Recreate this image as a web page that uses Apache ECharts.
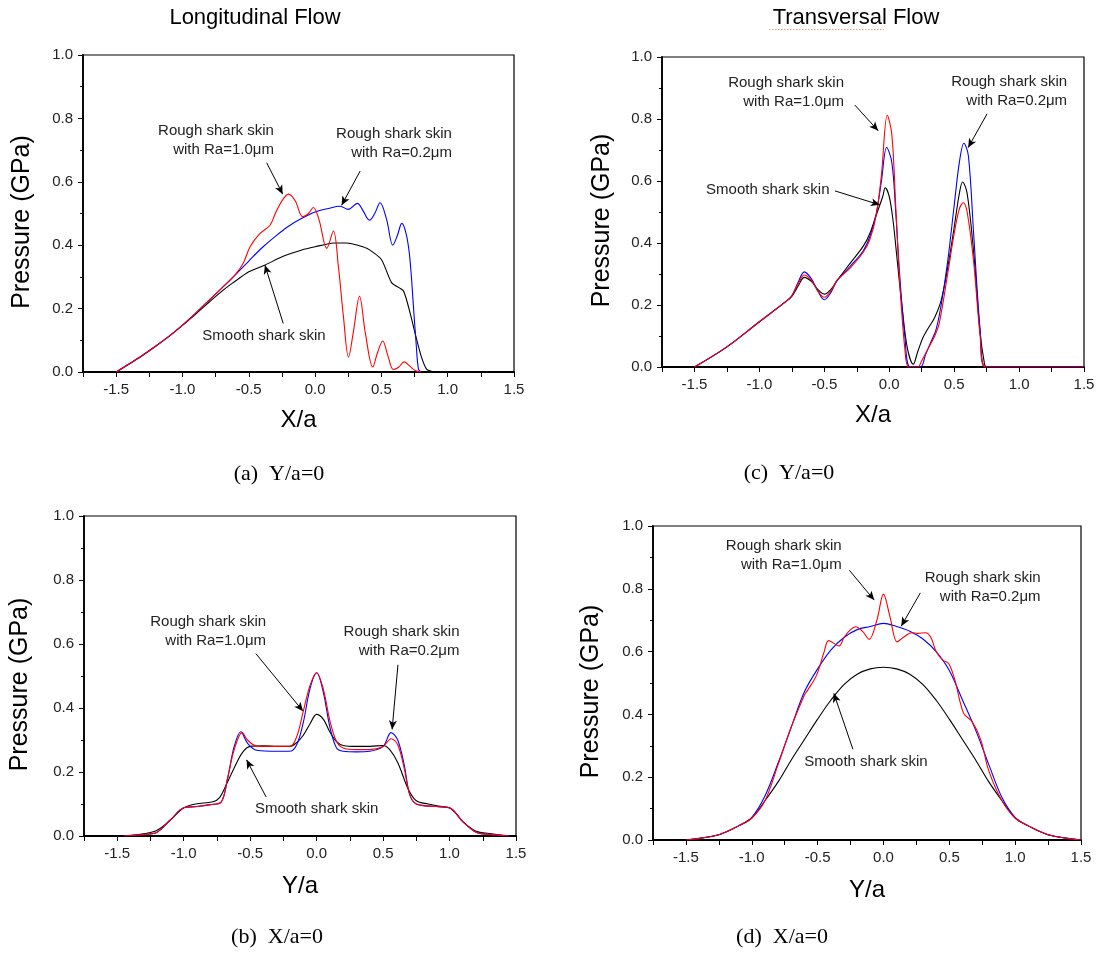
<!DOCTYPE html>
<html><head><meta charset="utf-8">
<script src="https://cdn.jsdelivr.net/npm/echarts@6/dist/echarts.min.js"></script>
<style>html,body{margin:0;padding:0;background:#fff}#c{width:1102px;height:954px}</style>
</head><body><div id="c"></div>
<script>
// ---------- Panel (a): Longitudinal flow, Y/a=0 ----------
const aSmoothX = [-1.5,-1.4,-1.3,-1.2,-1.1,-1.0,-0.9,-0.8,-0.7,-0.62,-0.5,-0.38,-0.24,-0.1,0,0.14,0.24,0.39,0.5,0.578,0.666,0.72,0.754,0.8,0.842,0.9];
const aSmoothY = [0,0.026,0.053,0.082,0.113,0.147,0.183,0.22,0.256,0.281,0.316,0.337,0.365,0.385,0.395,0.407,0.407,0.39,0.355,0.281,0.256,0.18,0.122,0.05,0.008,0];
const aRa02X = [-1.5,-1.4,-1.3,-1.2,-1.1,-1.0,-0.9,-0.8,-0.7,-0.6,-0.5,-0.4,-0.3,-0.2,-0.1,0,0.1,0.189,0.25,0.319,0.36,0.41,0.45,0.49,0.54,0.586,0.62,0.654,0.69,0.716,0.742,0.762,0.78,0.8];
const aRa02Y = [0,0.026,0.053,0.082,0.113,0.148,0.186,0.226,0.266,0.307,0.35,0.392,0.428,0.46,0.485,0.505,0.516,0.523,0.513,0.532,0.51,0.479,0.5,0.534,0.48,0.40,0.43,0.469,0.43,0.353,0.205,0.09,0.008,0];
const aRa10X = [-1.5,-1.4,-1.3,-1.2,-1.1,-1.0,-0.9,-0.8,-0.7,-0.6,-0.54,-0.49,-0.415,-0.34,-0.3,-0.25,-0.2,-0.15,-0.093,-0.05,-0.013,0.03,0.088,0.138,0.176,0.214,0.252,0.29,0.335,0.38,0.435,0.47,0.51,0.55,0.59,0.63,0.671,0.71,0.754,0.8];
const aRa10Y = [0,0.026,0.053,0.082,0.113,0.148,0.186,0.226,0.266,0.308,0.345,0.395,0.437,0.463,0.5,0.54,0.561,0.54,0.49,0.5,0.519,0.48,0.39,0.445,0.332,0.174,0.047,0.13,0.239,0.12,0.016,0.06,0.098,0.05,0.008,0.015,0.032,0.02,0.005,0];

// ---------- Panel (c): Transversal flow, Y/a=0 ----------
const cSmoothX = [-1.5,-1.25,-1.0,-0.8,-0.75,-0.7,-0.654,-0.6,-0.55,-0.5,-0.45,-0.4,-0.3,-0.2,-0.15,-0.1,-0.05,-0.031,0,0.03,0.06,0.1,0.14,0.185,0.22,0.26,0.3,0.35,0.4,0.45,0.5,0.54,0.565,0.6,0.65,0.7,0.73,0.75,1.5];
const cSmoothY = [0,0.065,0.146,0.21,0.228,0.262,0.289,0.276,0.25,0.235,0.25,0.28,0.335,0.39,0.43,0.49,0.55,0.578,0.55,0.47,0.35,0.19,0.06,0.009,0.05,0.095,0.125,0.16,0.215,0.32,0.45,0.56,0.597,0.56,0.37,0.11,0.02,0,0];
const cRa02X = [-1.5,-1.25,-1.0,-0.8,-0.75,-0.7,-0.654,-0.6,-0.55,-0.5,-0.45,-0.4,-0.3,-0.2,-0.15,-0.1,-0.06,-0.02,0.02,0.05,0.08,0.12,0.16,0.24,0.28,0.32,0.36,0.4,0.45,0.5,0.54,0.575,0.61,0.65,0.7,0.74,1.5];
const cRa02Y = [0,0.065,0.146,0.21,0.23,0.275,0.307,0.285,0.245,0.217,0.24,0.28,0.325,0.375,0.42,0.495,0.6,0.708,0.66,0.5,0.3,0.1,0,0,0.04,0.08,0.12,0.2,0.34,0.52,0.66,0.722,0.68,0.43,0.12,0,0];
const cRa10X = [-1.5,-1.25,-1.0,-0.8,-0.75,-0.7,-0.654,-0.6,-0.55,-0.5,-0.45,-0.4,-0.3,-0.2,-0.15,-0.1,-0.06,-0.015,0.02,0.05,0.08,0.12,0.15,0.22,0.25,0.3,0.35,0.385,0.45,0.5,0.54,0.57,0.6,0.65,0.7,0.74,1.5];
const cRa10Y = [0,0.065,0.146,0.21,0.23,0.27,0.297,0.28,0.245,0.225,0.245,0.28,0.32,0.37,0.41,0.49,0.62,0.812,0.75,0.52,0.28,0.06,0,0,0.02,0.06,0.1,0.141,0.3,0.43,0.51,0.53,0.5,0.34,0.1,0,0];

// ---------- Panel (b): Longitudinal flow, X/a=0 ----------
const bSmoothX = [-1.45,-1.3,-1.2,-1.1,-1.0,-0.91,-0.78,-0.73,-0.68,-0.6,-0.55,-0.5,-0.4,-0.3,-0.2,-0.15,-0.1,-0.05,0,0.05,0.1,0.15,0.2,0.3,0.4,0.5,0.55,0.61,0.69,0.75,0.84,0.97,1.0,1.05,1.1,1.2,1.3,1.45];
const bSmoothY = [0,0.007,0.018,0.05,0.088,0.1,0.107,0.12,0.16,0.23,0.265,0.28,0.282,0.28,0.28,0.292,0.315,0.35,0.38,0.365,0.325,0.295,0.283,0.28,0.28,0.283,0.27,0.23,0.146,0.11,0.1,0.09,0.088,0.07,0.045,0.015,0.008,0];
const bRa02X = [-1.45,-1.3,-1.2,-1.1,-1.0,-0.9,-0.8,-0.72,-0.67,-0.62,-0.57,-0.52,-0.45,-0.3,-0.2,-0.15,-0.1,-0.05,0,0.05,0.1,0.15,0.2,0.3,0.4,0.5,0.56,0.61,0.66,0.7,0.75,0.9,1.0,1.1,1.2,1.3,1.45];
const bRa02Y = [0,0.005,0.012,0.05,0.088,0.092,0.098,0.105,0.18,0.28,0.326,0.29,0.268,0.265,0.265,0.285,0.355,0.46,0.51,0.45,0.34,0.275,0.265,0.263,0.265,0.28,0.323,0.3,0.22,0.13,0.1,0.092,0.088,0.045,0.012,0.005,0];
const bRa10X = [-1.45,-1.3,-1.2,-1.1,-1.0,-0.9,-0.8,-0.72,-0.67,-0.62,-0.56,-0.52,-0.45,-0.3,-0.2,-0.15,-0.1,-0.05,0,0.05,0.1,0.15,0.2,0.3,0.4,0.5,0.56,0.61,0.66,0.7,0.75,0.9,1.0,1.1,1.2,1.3,1.45];
const bRa10Y = [0,0.005,0.012,0.05,0.088,0.092,0.098,0.105,0.18,0.27,0.323,0.3,0.281,0.28,0.28,0.31,0.39,0.47,0.51,0.46,0.36,0.295,0.275,0.27,0.27,0.28,0.304,0.285,0.21,0.13,0.1,0.092,0.088,0.045,0.012,0.005,0];

// ---------- Panel (d): Transversal flow, X/a=0 ----------
const dSmoothX = [-1.5,-1.25,-1.1,-1.0,-0.9,-0.8,-0.7,-0.6,-0.5,-0.4,-0.3,-0.2,-0.1,0,0.1,0.2,0.3,0.4,0.5,0.6,0.7,0.8,0.9,1.0,1.1,1.25,1.5];
const dSmoothY = [0,0.017,0.045,0.07,0.125,0.185,0.255,0.32,0.385,0.445,0.495,0.528,0.545,0.55,0.545,0.528,0.495,0.445,0.385,0.32,0.255,0.185,0.125,0.07,0.045,0.017,0];
const dRa02X = [-1.5,-1.25,-1.1,-1.0,-0.9,-0.8,-0.7,-0.6,-0.5,-0.4,-0.3,-0.2,-0.1,0,0.1,0.2,0.3,0.4,0.5,0.6,0.7,0.8,0.9,1.0,1.1,1.25,1.5];
const dRa02Y = [0,0.017,0.045,0.072,0.14,0.245,0.36,0.472,0.545,0.605,0.645,0.67,0.68,0.69,0.68,0.665,0.64,0.6,0.54,0.446,0.35,0.24,0.135,0.072,0.045,0.017,0];
const dRa10X = [-1.5,-1.25,-1.1,-1.0,-0.9,-0.8,-0.7,-0.6,-0.574,-0.508,-0.45,-0.416,-0.337,-0.3,-0.25,-0.211,-0.16,-0.109,-0.05,0,0.05,0.104,0.15,0.214,0.26,0.319,0.36,0.4,0.45,0.495,0.542,0.608,0.673,0.739,0.8,0.9,1.0,1.1,1.25,1.5];
const dRa10Y = [0,0.017,0.045,0.07,0.125,0.24,0.36,0.462,0.478,0.525,0.6,0.635,0.618,0.645,0.67,0.679,0.665,0.639,0.7,0.783,0.71,0.631,0.645,0.66,0.658,0.66,0.645,0.6,0.573,0.562,0.51,0.404,0.377,0.319,0.22,0.125,0.07,0.045,0.017,0];

// ---------- text ----------
const topTitles = ['Longitudinal Flow', 'Transversal Flow'];
const captions = ['(a)  Y/a=0', '(c)  Y/a=0', '(b)  X/a=0', '(d)  X/a=0'];
const xNames = ['X/a', 'X/a', 'Y/a', 'Y/a'];
const yName = 'Pressure (GPa)';
const lblRa10 = 'Rough shark skin\nwith Ra=1.0\u03bcm';
const lblRa02 = 'Rough shark skin\nwith Ra=0.2\u03bcm';
const lblSmooth = 'Smooth shark skin';
</script>
<script>
const FONT = 'Arial, "Liberation Sans", Helvetica, sans-serif';
const SERIF = '"Times New Roman", "Liberation Serif", serif';
const zip = (xs, ys) => xs.map((x, i) => [x, ys[i]]);

// layout (pixel) per panel: a, c, b, d
const layout = [
  {left: 83,  top: 55,  width: 431, height: 317, gapX: 36, gapY: 48},
  {left: 662, top: 57,  width: 422, height: 310, gapX: 36, gapY: 47},
  {left: 84,  top: 516, width: 432, height: 320, gapX: 38, gapY: 51},
  {left: 653, top: 526, width: 428, height: 314, gapX: 38, gapY: 49}
];
const seriesData = [
  [[aSmoothX, aSmoothY], [aRa02X, aRa02Y], [aRa10X, aRa10Y]],
  [[cSmoothX, cSmoothY], [cRa02X, cRa02Y], [cRa10X, cRa10Y]],
  [[bSmoothX, bSmoothY], [bRa02X, bRa02Y], [bRa10X, bRa10Y]],
  [[dSmoothX, dSmoothY], [dRa02X, dRa02Y], [dRa10X, dRa10Y]]
];
const colors = ['#000000', '#0000ff', '#ff0000'];
const names = ['Smooth shark skin', 'Rough shark skin Ra=0.2', 'Rough shark skin Ra=1.0'];

// annotation anchors in data coordinates
const notes = [
  [{x:-0.31, y:0.730, t:lblRa10, a:'right'}, {x:1.032, y:0.722, t:lblRa02, a:'right'}, {x:-0.385, y:0.115, t:lblSmooth, a:'center'}],
  [{x:-0.348, y:0.885, t:lblRa10, a:'right'}, {x:1.37, y:0.89, t:lblRa02, a:'right'}, {x:-0.46, y:0.573, t:lblSmooth, a:'right'}],
  [{x:-0.38, y:0.638, t:lblRa10, a:'right'}, {x:1.075, y:0.607, t:lblRa02, a:'right'}, {x:0.0, y:0.084, t:lblSmooth, a:'center'}],
  [{x:-0.317, y:0.905, t:lblRa10, a:'right'}, {x:1.193, y:0.806, t:lblRa02, a:'right'}, {x:-0.133, y:0.25, t:lblSmooth, a:'center'}]
];
const arrows = [
  [[-0.365,0.66,-0.244,0.561],[0.34,0.634,0.20,0.526],[-0.24,0.153,-0.378,0.337]],
  [[-0.265,0.845,-0.085,0.762],[0.754,0.817,0.608,0.708],[-0.418,0.568,-0.072,0.523]],
  [[-0.457,0.57,-0.102,0.39],[0.612,0.535,0.568,0.333],[-0.38,0.122,-0.527,0.238]],
  [[-0.259,0.859,-0.07,0.764],[0.28,0.787,0.135,0.681],[-0.232,0.289,-0.377,0.467]]
];

const isHalf = v => Math.abs(v * 2 - Math.round(v * 2)) < 1e-6;

const grid = [], xAxis = [], yAxis = [], series = [];
layout.forEach((L, i) => {
  grid.push({left: L.left, top: L.top, width: L.width, height: L.height, show: true,
             borderColor: '#000', borderWidth: 1.2, backgroundColor: 'rgba(0,0,0,0)'});
  xAxis.push({type: 'value', gridIndex: i, min: -1.75, max: 1.5, interval: 0.25,
    name: xNames[i], nameLocation: 'middle', nameGap: L.gapX,
    nameTextStyle: {fontSize: 24, fontFamily: FONT, color: '#000'},
    axisLine: {onZero: false, lineStyle: {color: '#000', width: 1.8}},
    axisTick: {length: 5, lineStyle: {color: '#000', width: 1}},
    axisLabel: {margin: 10, fontSize: 15, fontFamily: FONT, color: '#222',
      formatter: v => isHalf(v) ? v.toFixed(1) : ''},
    splitLine: {show: false}});
  yAxis.push({type: 'value', gridIndex: i, min: 0, max: 1, interval: 0.2,
    name: yName, nameLocation: 'middle', nameGap: L.gapY,
    nameTextStyle: {fontSize: 25, fontFamily: FONT, color: '#000', padding: [0, 17, 0, 0]},
    axisLine: {onZero: false, lineStyle: {color: '#000', width: 1.8}},
    axisTick: {length: 5, lineStyle: {color: '#000', width: 1}},
    minorTick: {show: true, splitNumber: 2, length: 3, lineStyle: {color: '#000', width: 1}},
    axisLabel: {margin: 10, fontSize: 15, fontFamily: FONT, color: '#222',
      formatter: v => v.toFixed(1)},
    splitLine: {show: false}});
  seriesData[i].forEach((sd, k) => {
    const s = {type: 'line', name: names[k], xAxisIndex: i, yAxisIndex: i,
      data: zip(sd[0], sd[1]), showSymbol: false, smooth: k === 0 && i === 0 ? 0.2 : 0.35,
      lineStyle: {color: colors[k], width: 1.1}, itemStyle: {color: colors[k]},
      z: 2 + k, silent: true};
    if (k === 0) {
      s.markLine = {silent: true, symbol: ['none', 'arrow'], symbolSize: [6, 9],
        lineStyle: {color: '#000', width: 1, type: 'solid'}, label: {show: false},
        emphasis: {disabled: true}, animation: false,
        data: arrows[i].map(a => [{coord: [a[0], a[1]]}, {coord: [a[2], a[3]]}])};
    }
    series.push(s);
  });
});

const chart = echarts.init(document.getElementById('c'), null, {renderer: 'canvas'});
chart.setOption({animation: false, backgroundColor: '#fff', grid, xAxis, yAxis, series});

const graphic = [];
// top titles
[[255, 18], [856, 18]].forEach((p, i) => graphic.push({type: 'text', x: p[0], y: p[1],
  style: {text: topTitles[i], fontSize: 22, fontFamily: FONT, fill: '#000', align: 'center', verticalAlign: 'middle'}}));
// spell-check squiggle under "Transversal"
graphic.push({type: 'line', shape: {x1: 769, y1: 29.5, x2: 884, y2: 29.5},
  style: {stroke: '#f0a070', lineWidth: 1, lineDash: [1.5, 1.5]}});
// captions
[[279, 474], [789, 473], [277, 937], [782, 937]].forEach((p, i) => graphic.push({type: 'text', x: p[0], y: p[1],
  style: {text: captions[i], fontSize: 22, fontFamily: SERIF, fill: '#000', align: 'center', verticalAlign: 'middle'}}));
// annotations placed through the axes
notes.forEach((arr, i) => arr.forEach(n => {
  const p = chart.convertToPixel({gridIndex: i}, [n.x, n.y]);
  graphic.push({type: 'text', x: p[0], y: p[1], z: 10,
    style: {text: n.t, fontSize: 15, fontFamily: FONT, fill: '#222', align: n.a,
            verticalAlign: 'middle', lineHeight: 19}});
}));
chart.setOption({graphic});
</script></body></html>
